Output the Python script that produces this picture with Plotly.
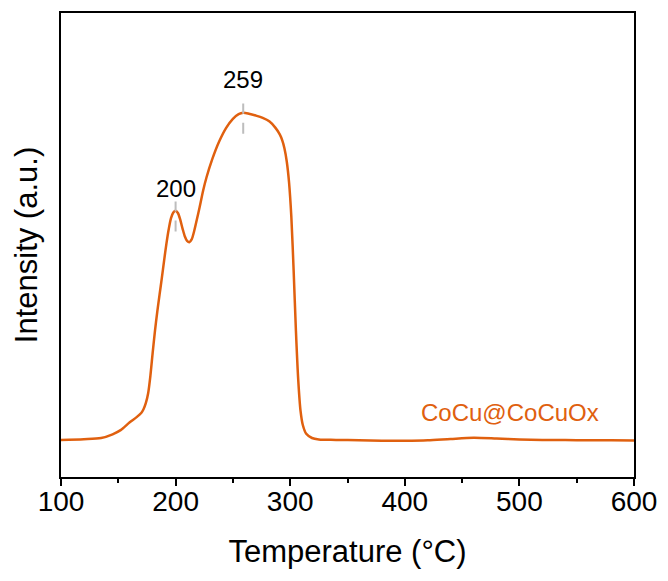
import plotly.graph_objects as go

# H2-TPR profile of the CoCu@CoCuOx catalyst
temperature = [100, 120, 135, 145, 152, 160, 166, 170, 172, 174, 176, 178, 180, 182,
               184, 186, 188, 190, 192, 194, 196, 198, 200, 202, 204, 206, 208, 210,
               212, 214, 216, 218, 221, 224, 227, 232, 238, 244, 250, 255, 259, 264,
               270, 276, 282, 287, 291, 293, 295, 297, 299, 301, 303, 305, 307, 309,
               311, 314, 319, 325, 340, 360, 380, 400, 420, 440, 460, 480, 500, 520,
               540, 560, 580, 600]
intensity = [8.0, 8.15, 8.4, 9.2, 10.1, 11.8, 12.9, 13.8, 14.6, 15.9, 18.0, 21.8, 26.8, 31.5,
             35.6, 39.3, 42.9, 46.7, 50.3, 53.4, 55.8, 57.0, 57.4, 56.9, 55.5, 53.6, 51.9, 50.9,
             50.6, 51.2, 52.8, 54.9, 58.2, 61.7, 64.6, 68.5, 72.3, 75.2, 77.2, 78.2, 78.5, 78.3,
             77.9, 77.4, 76.6, 75.3, 73.8, 72.6, 70.8, 68.0, 63.5, 56.0, 44.5, 31.5, 21.0, 14.3,
             11.2, 9.3, 8.4, 8.1, 8.0, 7.9, 7.8, 7.8, 7.9, 8.2, 8.45, 8.3, 8.1, 8.0,
             7.95, 7.9, 7.9, 7.85]

series_name = "CoCu@CoCuOx"
peak_temps = [200, 259]
peak_labels = ["200", "259"]

x_ticks = [100, 200, 300, 400, 500, 600]

ORANGE = "#E0600F"
FONT = "Arial, Liberation Sans, sans-serif"

fig = go.Figure()

fig.add_trace(go.Scatter(
    x=temperature, y=intensity, mode="lines", name=series_name,
    line=dict(color=ORANGE, width=2.5, shape="spline", smoothing=0.8),
    showlegend=False,
))

# dashed guide marks through each reduction peak
peak_heights = [intensity[temperature.index(t)] for t in peak_temps]
label_shift = [22, 33]
for t, h, lab, sh in zip(peak_temps, peak_heights, peak_labels, label_shift):
    fig.add_trace(go.Scatter(
        x=[t, t], y=[h - 4.5, h + 2.0], mode="lines",
        line=dict(color="#BDBDBD", width=2, dash="11px,9px"),
        showlegend=False, hoverinfo="skip",
    ))
    fig.add_annotation(x=t, y=h, text=lab, showarrow=False, yshift=sh,
                       font=dict(family=FONT, size=24, color="black"))

fig.add_annotation(x=492, y=14.0, text=series_name, showarrow=False,
                   font=dict(family=FONT, size=24, color=ORANGE))

fig.update_layout(
    width=668, height=581,
    margin=dict(l=61, r=30, t=11, b=104),
    paper_bgcolor="white", plot_bgcolor="white",
    font=dict(family=FONT, color="black"),
    xaxis=dict(
        range=[100, 600], tickvals=x_ticks, ticks="outside", ticklen=7, tickwidth=2,
        tickcolor="black", showline=True, linewidth=2, linecolor="black", mirror=True,
        showgrid=False, zeroline=False, tickfont=dict(size=28), ticklabelstandoff=-9,
        minor=dict(dtick=50, ticks="outside", ticklen=4, tickwidth=2, tickcolor="black"),
        title=dict(text="Temperature (°C)", font=dict(size=31), standoff=25),
    ),
    yaxis=dict(
        range=[0, 100], showticklabels=False, ticks="", showline=True, linewidth=2,
        linecolor="black", mirror=True, showgrid=False, zeroline=False,
        title=dict(text="Intensity (a.u.)", font=dict(size=31), standoff=12),
    ),
)

fig.write_html("out.html")
